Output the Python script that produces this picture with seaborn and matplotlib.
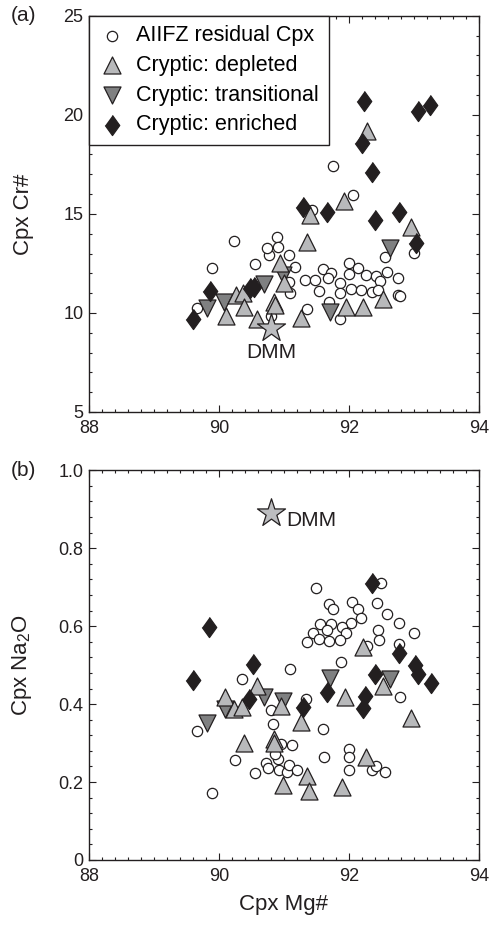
import matplotlib
matplotlib.use("Agg")
import matplotlib.pyplot as plt
from matplotlib.ticker import MultipleLocator, AutoMinorLocator
import seaborn as sns

# --- data ---
# (a) Cpx Mg# vs Cpx Cr#
top_res_mg = [89.66, 89.90, 90.23, 90.56, 90.77, 90.74, 90.90, 90.91, 91.08, 91.17, 91.08,
              91.10, 91.33, 91.35, 90.80, 91.48, 91.60, 91.72, 91.68, 91.54, 91.86, 91.86,
              92.00, 92.14, 92.00, 92.27, 92.42, 92.48, 92.58, 92.76, 92.04, 92.18, 92.35,
              92.45, 92.76, 92.79, 91.70, 91.87, 92.55, 93.00, 91.76, 92.06, 91.43]
top_res_cr = [10.25, 12.27, 13.65, 12.47, 12.92, 13.27, 13.85, 13.35, 12.95, 12.34, 11.58,
              11.00, 11.67, 10.19, 9.83, 11.67, 12.24, 12.00, 11.75, 11.12, 11.50, 11.00,
              12.51, 12.29, 11.97, 11.92, 11.87, 11.63, 12.05, 11.78, 11.20, 11.16, 11.08,
              11.16, 10.91, 10.85, 10.57, 9.68, 12.80, 13.05, 17.42, 15.96, 15.20]
top_dep_mg = [90.11, 90.27, 90.37, 90.39, 90.58, 90.94, 91.00, 90.84, 90.86, 91.27, 91.36,
              91.40, 91.92, 92.28, 92.96, 91.95, 92.22, 92.53]
top_dep_cr = [9.83, 10.90, 11.00, 10.30, 9.68, 12.51, 11.50, 10.57, 10.40, 9.76, 13.60,
              14.95, 15.67, 19.16, 14.33, 10.29, 10.29, 10.69]
top_tra_mg = [89.81, 90.08, 90.70, 90.98, 91.71, 92.63]
top_tra_cr = [10.27, 10.55, 11.45, 11.92, 10.07, 13.27]
top_enr_mg = [89.60, 89.86, 90.48, 90.54, 91.30, 91.66, 92.24, 92.20, 92.35, 92.40, 92.77,
              93.03, 93.07, 93.25]
top_enr_cr = [9.70, 11.10, 11.26, 11.33, 15.37, 15.12, 20.72, 18.60, 17.14, 14.70, 15.09,
              13.52, 20.17, 20.50]

# (b) Cpx Mg# vs Cpx Na2O
bot_res_mg = [89.66, 89.90, 90.24, 90.35, 90.56, 90.73, 90.76, 90.80, 90.83, 90.91, 90.93,
              91.05, 91.08, 91.20, 91.13, 90.96, 91.09, 91.34, 91.60, 91.62, 92.00, 92.00,
              92.00, 92.35, 92.42, 92.55, 92.78, 91.88, 91.49, 92.49, 91.70, 91.76, 92.05,
              92.14, 92.18, 92.43, 92.58, 92.77, 93.00, 92.45, 92.46, 92.77, 92.28, 92.03,
              91.55, 91.73, 91.89, 91.96, 91.45, 91.66, 91.35, 91.54, 91.70, 91.86, 90.87]
bot_res_na = [0.332, 0.171, 0.256, 0.464, 0.223, 0.248, 0.236, 0.385, 0.348, 0.258, 0.231,
              0.226, 0.244, 0.231, 0.295, 0.297, 0.489, 0.412, 0.337, 0.265, 0.284, 0.263,
              0.230, 0.231, 0.240, 0.226, 0.417, 0.509, 0.698, 0.711, 0.658, 0.645, 0.663,
              0.645, 0.620, 0.659, 0.630, 0.608, 0.582, 0.590, 0.564, 0.555, 0.550, 0.608,
              0.606, 0.606, 0.598, 0.583, 0.582, 0.589, 0.560, 0.568, 0.562, 0.564, 0.273]
bot_dep_mg = [90.10, 90.23, 90.36, 90.59, 90.39, 90.84, 90.85, 90.95, 91.26, 90.99, 91.36,
              91.38, 91.90, 91.94, 92.21, 92.53, 92.27, 92.96]
bot_dep_na = [0.418, 0.387, 0.392, 0.447, 0.299, 0.310, 0.300, 0.395, 0.353, 0.193, 0.216,
              0.178, 0.187, 0.417, 0.547, 0.446, 0.265, 0.365]
bot_tra_mg = [89.81, 90.09, 90.70, 90.98, 91.71, 92.63]
bot_tra_na = [0.352, 0.388, 0.419, 0.408, 0.466, 0.465]
bot_enr_mg = [89.60, 89.85, 90.53, 90.47, 91.30, 91.66, 92.21, 92.25, 92.35, 92.40, 92.77,
              93.02, 93.07, 93.26]
bot_enr_na = [0.463, 0.598, 0.504, 0.412, 0.393, 0.432, 0.390, 0.420, 0.710, 0.477, 0.532,
              0.500, 0.478, 0.453]

dmm_mg = 90.8
dmm_cr = 9.23
dmm_na = 0.89

labels = ["AIIFZ residual Cpx", "Cryptic: depleted", "Cryptic: transitional", "Cryptic: enriched"]

plt.rcParams["font.family"] = ["Liberation Sans", "DejaVu Sans"]
plt.rcParams["mathtext.default"] = "regular"

ink = "#231f20"
diamond = [(0, 1), (0.72, 0), (0, -1), (-0.72, 0)]
# label: (marker, size, fill, zorder)
styles = {
    labels[0]: ("o", 55, "white", 2),
    labels[1]: ("^", 150, "#b8b9bb", 4),
    labels[2]: ("v", 150, "#7f8081", 3),
    labels[3]: (diamond, 210, ink, 5),
}

fig = plt.figure(figsize=(4.96, 9.30), dpi=100)
ax1 = fig.add_axes([0.1794, 0.557, 0.786, 0.426])
ax2 = fig.add_axes([0.1794, 0.0753, 0.786, 0.419])

top_sets = [(top_res_mg, top_res_cr), (top_dep_mg, top_dep_cr),
            (top_tra_mg, top_tra_cr), (top_enr_mg, top_enr_cr)]
bot_sets = [(bot_res_mg, bot_res_na), (bot_dep_mg, bot_dep_na),
            (bot_tra_mg, bot_tra_na), (bot_enr_mg, bot_enr_na)]

for ax, sets in [(ax1, top_sets), (ax2, bot_sets)]:
    for lab, (xs, ys) in zip(labels, sets):
        m, s, c, z = styles[lab]
        sns.scatterplot(x=xs, y=ys, ax=ax, marker=m, s=s, color=c, edgecolor=ink,
                        linewidth=0.9, label=lab, zorder=z, legend=False)

sns.scatterplot(x=[dmm_mg], y=[dmm_cr], ax=ax1, marker="*", s=450, color="#bcbdc0",
                edgecolor=ink, linewidth=0.9, zorder=6, legend=False)
sns.scatterplot(x=[dmm_mg], y=[dmm_na], ax=ax2, marker="*", s=450, color="#bcbdc0",
                edgecolor=ink, linewidth=0.9, zorder=6, legend=False)
ax1.text(dmm_mg, 8.0, "DMM", ha="center", va="center", fontsize=15, color=ink)
ax2.text(91.04, 0.872, "DMM", ha="left", va="center", fontsize=15, color=ink)

for ax in (ax1, ax2):
    ax.set_xlim(88, 94)
    ax.xaxis.set_major_locator(MultipleLocator(2))
    ax.xaxis.set_minor_locator(AutoMinorLocator(10))
    ax.yaxis.set_minor_locator(AutoMinorLocator(5))
    ax.tick_params(which="both", direction="in", top=True, right=True,
                   labelsize=13, colors=ink, width=0.8)
    ax.tick_params(which="major", length=5, pad=4)
    ax.tick_params(axis="x", which="major", pad=6)
    ax.tick_params(which="minor", length=2.5)
    for sp in ax.spines.values():
        sp.set_linewidth(1.0)
        sp.set_color(ink)

ax1.set_ylim(5, 25)
ax1.yaxis.set_major_locator(MultipleLocator(5))
ax1.set_ylabel("Cpx Cr#", fontsize=16, color=ink)
ax1.yaxis.set_label_coords(-0.14, 0.5)

ax2.set_ylim(0, 1.0)
ax2.set_yticks([0, 0.2, 0.4, 0.6, 0.8, 1.0])
ax2.set_yticklabels(["0", "0.2", "0.4", "0.6", "0.8", "1.0"])
ax2.set_ylabel("Cpx Na$_2$O", fontsize=16, color=ink)
ax2.yaxis.set_label_coords(-0.14, 0.5)
ax2.set_xlabel("Cpx Mg#", fontsize=16, color=ink)
ax2.xaxis.set_label_coords(0.5, -0.087)

leg = ax1.legend(loc="upper left", bbox_to_anchor=(0, 1), borderaxespad=0,
                 fontsize=15.5, scatterpoints=1, handlelength=1.25, handletextpad=0.5,
                 borderpad=0.45, labelspacing=0.4, fancybox=False, framealpha=1)
leg.get_frame().set_edgecolor(ink)
leg.get_frame().set_linewidth(1.0)
leg.set_zorder(10)

fig.text(0.022, 0.983, "(a)", fontsize=15, color=ink, va="center")
fig.text(0.022, 0.494, "(b)", fontsize=15, color=ink, va="center")

fig.savefig("out.png", dpi=100)
